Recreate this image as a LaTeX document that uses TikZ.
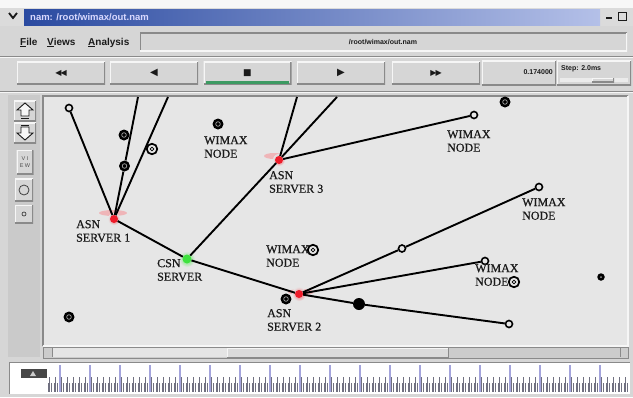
\documentclass[tikz,border=0pt]{standalone}
\usepackage{fontspec}
\setmainfont{Liberation Serif}
\newfontfamily\lblfont[FakeBold=0.7]{Liberation Serif}
\newfontfamily\uifont{Liberation Sans}
\newfontfamily\glyphfont{DejaVu Sans}
\pgfdeclarelayer{back}
\pgfdeclarelayer{wires}
\pgfsetlayers{back,wires,main}

\definecolor{winbg}{HTML}{D6D6D6}
\definecolor{panelbg}{HTML}{CACACA}
\definecolor{canvasbg}{HTML}{E6E6E6}
\definecolor{edgedark}{HTML}{8A8A8A}
\definecolor{edgelight}{HTML}{F6F6F6}
\definecolor{titleL}{HTML}{2A4AA0}
\definecolor{titleR}{HTML}{B4C0E8}
\definecolor{tickblue}{HTML}{A4A4DC}
\definecolor{tickgrey}{HTML}{707080}
\definecolor{srvred}{HTML}{EE1C2A}
\definecolor{csngreen}{HTML}{3FE23F}
\definecolor{ink}{HTML}{1A1A1A}
\definecolor{playgreen}{HTML}{3C9A62}

\tikzset{
  raised/.style={fill=winbg, path picture={
      \draw[edgelight,line width=2.4pt]
        (path picture bounding box.south west) -- (path picture bounding box.north west)
        -- (path picture bounding box.north east);
      \draw[edgedark,line width=2.4pt]
        (path picture bounding box.south west) -- (path picture bounding box.south east)
        -- (path picture bounding box.north east);}},
  sunken/.style={fill=winbg, path picture={
      \draw[edgedark,line width=2.4pt]
        (path picture bounding box.south west) -- (path picture bounding box.north west)
        -- (path picture bounding box.north east);
      \draw[edgelight,line width=2.4pt]
        (path picture bounding box.south west) -- (path picture bounding box.south east)
        -- (path picture bounding box.north east);}},
  uibtn/.style={raised, minimum width=88pt, minimum height=23pt, inner sep=0pt,
    font=\glyphfont\fontsize{10}{10}\selectfont, text=ink},
  menu/.style={font=\uifont\bfseries\fontsize{10}{10}\selectfont, inner sep=0pt,
    anchor=base west, text=ink},
  tinyui/.style={font=\uifont\bfseries\fontsize{7}{7}\selectfont, inner sep=0pt, text=ink},
  lbl/.style={font=\lblfont\fontsize{12}{13.5}\selectfont, align=left, inner sep=0pt,
    anchor=north west, text=ink},
  link/.style={line width=1.9pt, black},
  sn/.style={circle, draw=black, line width=1.6pt, fill=canvasbg, minimum size=7pt, inner sep=0pt},
  fn/.style={circle, fill=black, minimum size=11pt, inner sep=0pt,
    path picture={\draw[white!65!black, line width=0.7pt]
      (path picture bounding box.center) circle[radius=2.3pt];}},
  ringn/.style={circle, draw=black, line width=1.7pt, fill=canvasbg, minimum size=10.5pt, inner sep=0pt,
    path picture={\draw[black, line width=0.8pt]
      (path picture bounding box.center) circle[radius=1.9pt];}},
  dotn/.style={circle, fill=black, minimum size=7.5pt, inner sep=0pt,
    path picture={\fill[white!60!black] (path picture bounding box.center) circle[radius=1pt];}},
  bign/.style={circle, fill=black, minimum size=12pt, inner sep=0pt},
  srv/.style={circle, fill=srvred, minimum size=8pt, inner sep=0pt},
  csnn/.style={circle, fill=csngreen, minimum size=9pt, inner sep=0pt},
}

\begin{document}
\begin{tikzpicture}[x=1pt,y=-1pt]
\useasboundingbox (0,0) rectangle (633,397);

\begin{pgfonlayer}{back}
% window background
\fill[winbg] (0,0) rectangle (633,397);
% title bar
\fill[white!97!black] (0,0) rectangle (633,8);
\fill[white!86!black] (0,8) rectangle (633,26);
\shade[left color=titleL, right color=titleR] (24,9) rectangle (600,25);
\draw[ink, line width=1.8pt] (9,13) -- (13,18) -- (17,13);
\draw[ink, line width=1.6pt] (606,18) -- (612,18);
\draw[ink, line width=1pt] (618,12) rectangle (626,20);

% canvas
\fill[canvasbg] (43,96) rectangle (628,346);
\draw[edgedark, line width=1.2pt] (43,346) -- (43,96) -- (628,96);
\draw[edgelight, line width=1.2pt] (43,346) -- (628,346) -- (628,96);

% pink traces of the server tags
\fill[srvred!50, opacity=0.55] (113,213) ellipse [x radius=14pt, y radius=3pt];
\fill[srvred!50, opacity=0.55] (274,156) ellipse [x radius=10pt, y radius=3pt];
\fill[srvred!50, opacity=0.55] (301,292) ellipse [x radius=13pt, y radius=3pt];
\shade[inner color=srvred!70, outer color=canvasbg] (114,219) circle[radius=6pt];
\shade[inner color=srvred!70, outer color=canvasbg] (279,160) circle[radius=6pt];
\shade[inner color=srvred!70, outer color=canvasbg] (299,294) circle[radius=7pt];
\shade[inner color=csngreen!80, outer color=canvasbg] (187,259) circle[radius=8pt];

% scrollbar
\fill[white!80!black] (43,347) rectangle (628,358);
\draw[edgedark, line width=0.6pt] (43,347) rectangle (628,358);
\fill[white!90!black] (52,348) rectangle (227,357);
\fill[white!86!black] (227,348) rectangle (448,357);
\draw[edgelight, line width=0.8pt] (227,357) -- (227,348) -- (448,348);
\draw[edgedark, line width=0.8pt] (227,357) -- (448,357) -- (448,348);
\draw[edgedark, line width=0.6pt] (52,348) -- (52,357);
\draw[edgedark, line width=0.6pt] (620,348) -- (620,357);

% time line strip
\fill[white] (9,362) rectangle (630,394);
\draw[edgedark, line width=0.8pt] (9,394) -- (9,362) -- (630,362);
\foreach \x in {48,51,...,627} \draw[tickgrey, line width=0.6pt] (\x,383) -- (\x,392);
\foreach \x in {49.5,55.5,...,627} \draw[tickgrey, line width=0.7pt] (\x,377) -- (\x,392);
\foreach \x in {60,90,...,600} \draw[tickblue, line width=1.1pt] (\x,365) -- (\x,392);
\fill[black!72] (21,369) rectangle (47,378);
\fill[white!80!black] (33,371) -- (36,376) -- (30,376) -- cycle;

% separators
\draw[edgedark, line width=0.6pt] (0,56) -- (633,56);
\draw[edgelight, line width=0.6pt] (0,57) -- (633,57);
\draw[edgedark, line width=0.6pt] (0,91) -- (633,91);
\draw[edgelight, line width=0.6pt] (0,92) -- (633,92);
\end{pgfonlayer}

% menu bar
\node[menu] (mfile) at (20,45) {\underline{F}ile};
\node[menu] (mview) at (47,45) {\underline{V}iews};
\node[menu] (manal) at (88,45) {\underline{A}nalysis};
\node[sunken, minimum width=487pt, minimum height=19pt, inner sep=0pt] (pathbox) at (383.5,42) {};
\node[tinyui] (pathtxt) at (383,42) {/root/wimax/out.nam};

% transport buttons
\node[uibtn] (rew)  at (61,73)  {\fontsize{8}{8}\selectfont ◀\kern-1pt◀};
\node[uibtn] (back) at (154,73) {◀};
\node[uibtn] (stop) at (247.5,73) {\fontsize{9}{9}\selectfont ■};
\node[uibtn] (play) at (341,73) {▶};
\node[uibtn] (ffwd) at (436,73) {\fontsize{8}{8}\selectfont ▶\kern-1pt▶};
\fill[playgreen] ([xshift=3pt,yshift=1pt]stop.south west) rectangle ([xshift=-3pt,yshift=3.5pt]stop.south east);
\node[raised, minimum width=74pt, minimum height=25pt, inner sep=0pt] (timebox) at (519,73) {};
\node[tinyui, anchor=east] (timetxt) at (553,72) {0.174000};
\node[raised, minimum width=74pt, minimum height=25pt, inner sep=0pt] (stepbox) at (594,73) {};
\node[tinyui, anchor=west] (steptxt) at (561,69) {Step: 2.0ms};
\fill[white!92!black] (560,78) rectangle (628,82);
\node[raised, minimum width=22pt, minimum height=4pt, inner sep=0pt] (stepknob) at (603,80) {};

% left tool column
\node[fill=panelbg, minimum width=32pt, minimum height=262pt, inner sep=0pt] (toolcol) at (24,226) {};
\node[raised, minimum width=22pt, minimum height=21pt, inner sep=0pt] (zin) at (25,111) {};
\draw[ink, line width=0.9pt, fill=edgelight] (25,103) -- (33,110) -- (29,110) -- (29,116) -- (21,116) -- (21,110) -- (17,110) -- cycle;
\draw[ink, line width=0.6pt] (21,118) -- (29,118);
\node[raised, minimum width=22pt, minimum height=21pt, inner sep=0pt] (zout) at (25,133) {};
\draw[ink, line width=0.9pt, fill=edgelight] (25,140) -- (33,133) -- (29,133) -- (29,127) -- (21,127) -- (21,133) -- (17,133) -- cycle;
\draw[ink, line width=0.6pt] (21,125) -- (29,125);
\node[raised, minimum width=17pt, minimum height=24pt, inner sep=0pt,
  font=\uifont\fontsize{5.5}{7}\selectfont, align=center, text=black!70] (viewbtn) at (25,162) {V I\\E W};
\node[raised, minimum width=18pt, minimum height=23pt, inner sep=0pt] (circbtn) at (24,190) {};
\draw[black!75, line width=0.8pt] (circbtn.center) circle[radius=5pt];
\node[raised, minimum width=18pt, minimum height=18pt, inner sep=0pt] (dotbtn) at (24,214) {};
\draw[black!75, line width=0.7pt] (dotbtn.center) circle[radius=2pt];

% title
\node[anchor=west, text=white!85!blue, inner sep=0pt,
  font=\uifont\bfseries\fontsize{9.5}{9.5}\selectfont] (title) at (30,17) {nam: /root/wimax/out.nam};

% network nodes
\node[srv]  (asn1) at (114,219) {};
\node[csnn] (csn)  at (187,259) {};
\node[srv]  (asn3) at (279,160) {};
\node[srv]  (asn2) at (299,294) {};
\coordinate (e1) at (138,97);
\coordinate (e2) at (168,97);
\coordinate (e3) at (297,97);
\coordinate (e4) at (337,97);
\node[sn] (w1) at (69,108) {};
\node[sn] (w2) at (474,115) {};
\node[sn] (w3) at (539,187) {};
\node[sn] (w4) at (402,248.5) {};
\node[sn] (w5) at (485,261) {};
\node[sn] (w6) at (509,324) {};
\node[fn] (m1) at (124,135) {};
\node[fn] (m2) at (124.5,166) {};
\node[ringn] (m3) at (152,149) {};
\node[fn] (m4) at (218,124) {};
\node[fn] (m5) at (505,102) {};
\node[fn] (m6) at (286,299) {};
\node[fn] (m7) at (69,317) {};
\node[dotn] (m8) at (601,277) {};
\node[bign] (m9) at (359,304) {};
\node[ringn] (r1) at (313,250) {};
\node[ringn] (r2) at (514,282) {};

% links
\begin{pgfonlayer}{wires}
\draw[link] (asn1) -- (w1);
\draw[link] (asn1) -- (m2) -- (e1);
\draw[link] (asn1) -- (e2);
\draw[link] (asn1) -- (csn);
\draw[link] (csn) -- (asn3);
\draw[link] (csn) -- (asn2);
\draw[link] (asn3) -- (e3);
\draw[link] (asn3) -- (e4);
\draw[link] (asn3) -- (w2);
\draw[link] (asn2) -- (w4) -- (w3);
\draw[link] (asn2) -- (w5);
\draw[link] (asn2) -- (m9) -- (w6);
\end{pgfonlayer}

% labels
\node[lbl] (l1) at (76,220)  {ASN\\SERVER 1};
\node[lbl] (l2) at (157,259) {CSN\\SERVER};
\node[lbl] (l3) at (269,171) {ASN\\SERVER 3};
\node[lbl] (l4) at (267,309) {ASN\\SERVER 2};
\node[lbl] (l5) at (204,136) {WIMAX\\NODE};
\node[lbl] (l6) at (266,245) {WIMAX\\NODE};
\node[lbl] (l7) at (447,130) {WIMAX\\NODE};
\node[lbl] (l8) at (522,198) {WIMAX\\NODE};
\node[lbl] (l9) at (475,264) {WIMAX\\NODE};
\end{tikzpicture}
\end{document}
